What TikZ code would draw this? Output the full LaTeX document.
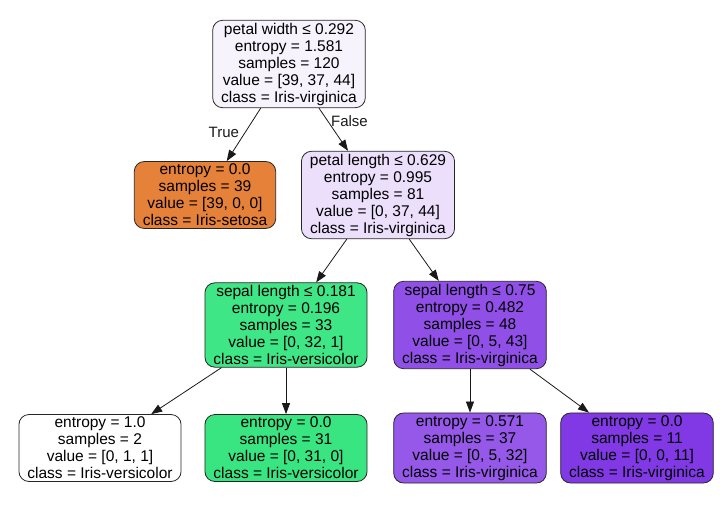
\documentclass[tikz,border=0pt]{standalone}
\usepackage{fontspec}
\setmainfont{Liberation Sans}
\usepackage{xcolor}
\usepackage{tikz}
\usetikzlibrary{arrows.meta}

\definecolor{rootc}{RGB}{247,243,253}
\definecolor{petalc}{RGB}{235,223,251}
\definecolor{setosac}{RGB}{229,129,57}
\definecolor{sepalgc}{RGB}{63,230,133}
\definecolor{sepalpc}{RGB}{144,80,232}
\definecolor{leafgc}{RGB}{57,229,129}
\definecolor{leafpc}{RGB}{149,88,233}
\definecolor{leafvc}{RGB}{129,57,229}

\begin{document}
\begin{tikzpicture}[
  x=1pt, y=-1pt,
  box/.style={draw=black!85, line width=0.8pt, rounded corners=10pt, align=center, inner xsep=8.5pt, inner ysep=2.5pt,
    font=\fontsize{15.5}{17}\selectfont},
  arr/.style={-{Triangle[length=11pt,width=8pt]}, line width=0.8pt, black!90},
  lbl/.style={font=\fontsize{15}{17}\selectfont, inner sep=1pt}
]
\useasboundingbox (0,0) rectangle (720,508);

\node[box, fill=rootc] (root) at (289,64) {petal width ≤ 0.292\\entropy = 1.581\\samples = 120\\value = [39, 37, 44]\\class = Iris-virginica};

\node[box, fill=setosac] (setosa) at (205,195) {entropy = 0.0\\samples = 39\\value = [39, 0, 0]\\class = Iris-setosa};
\node[box, fill=petalc] (petal) at (378,195) {petal length ≤ 0.629\\entropy = 0.995\\samples = 81\\value = [0, 37, 44]\\class = Iris-virginica};

\node[box, fill=sepalgc] (sepalg) at (286,325) {sepal length ≤ 0.181\\entropy = 0.196\\samples = 33\\value = [0, 32, 1]\\class = Iris-versicolor};
\node[box, fill=sepalpc] (sepalp) at (470,325) {sepal length ≤ 0.75\\entropy = 0.482\\samples = 48\\value = [0, 5, 43]\\class = Iris-virginica};

\node[box, fill=white] (leafa) at (100,448) {entropy = 1.0\\samples = 2\\value = [0, 1, 1]\\class = Iris-versicolor};
\node[box, fill=leafgc] (leafb) at (286,448) {entropy = 0.0\\samples = 31\\value = [0, 31, 0]\\class = Iris-versicolor};
\node[box, fill=leafpc] (leafc) at (470,448) {entropy = 0.571\\samples = 37\\value = [0, 5, 32]\\class = Iris-virginica};
\node[box, fill=leafvc] (leafd) at (637,448) {entropy = 0.0\\samples = 11\\value = [0, 0, 11]\\class = Iris-virginica};

\draw[arr] (root) -- node[lbl, pos=0.45, left=5pt] {True} (setosa);
\draw[arr] (root) -- node[lbl, pos=0.3, right=2pt] {False} (petal);
\draw[arr] (petal) -- (sepalg);
\draw[arr] (petal) -- (sepalp);
\draw[arr] (sepalg) -- (leafa);
\draw[arr] (sepalg) -- (leafb);
\draw[arr] (sepalp) -- (leafc);
\draw[arr] (sepalp) -- (leafd);

\end{tikzpicture}
\end{document}
